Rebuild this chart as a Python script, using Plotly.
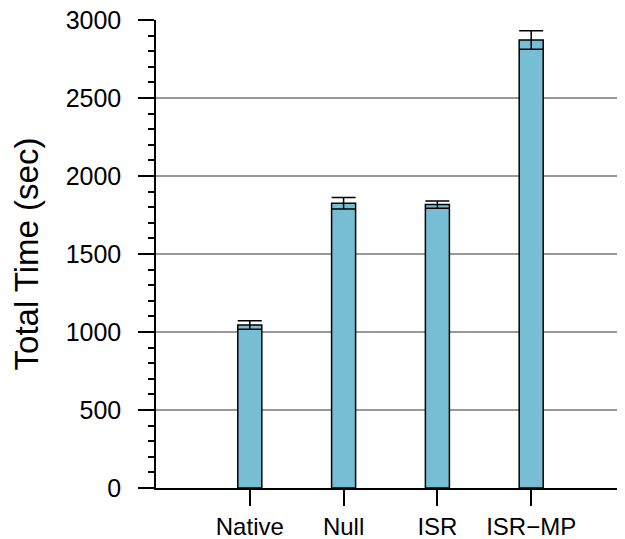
import plotly.graph_objects as go

categories = ["Native", "Null", "ISR", "ISR\u2212MP"]
total_time = [1045, 1825, 1817, 2872]
time_err = [27, 37, 23, 59]

fig = go.Figure()
fig.add_trace(go.Bar(
    x=categories,
    y=total_time,
    width=0.256,
    marker=dict(color="#77bdd3", line=dict(color="black", width=1.5)),
    error_y=dict(type="data", array=time_err, visible=True,
                 color="black", thickness=1.5, width=12),
))

# page body has an 8px margin, so the figure is drawn 8px smaller
fig.update_layout(
    width=617, height=531,
    margin=dict(l=148, r=0, t=12, b=51, autoexpand=False),
    plot_bgcolor="white", paper_bgcolor="white",
    font=dict(family="Liberation Sans, Arial, sans-serif", color="black", size=25),
    showlegend=False,
)
fig.update_xaxes(
    range=[-1, 4], showline=True, linecolor="black", linewidth=1.5,
    ticks="outside", ticklen=16, tickwidth=1.5, tickcolor="black",
    showgrid=False, tickfont=dict(size=24), ticklabelstandoff=0,
    automargin=False, ticklabeloverflow="allow",
)
fig.update_yaxes(
    range=[0, 3000], dtick=500, showline=True, linecolor="black", linewidth=1.5,
    ticks="outside", ticklen=16, tickwidth=1.5, tickcolor="black",
    minor=dict(dtick=100, ticks="outside", ticklen=6, tickwidth=1.5, tickcolor="black", showgrid=False),
    showgrid=True, gridcolor="#999999", gridwidth=1.5, zeroline=False,
    title=dict(text="Total Time (sec)", font=dict(size=33), standoff=18),
    tickfont=dict(size=25), ticklabelstandoff=12,
    automargin=False, ticklabeloverflow="allow",
)

fig.write_html("out.html")
